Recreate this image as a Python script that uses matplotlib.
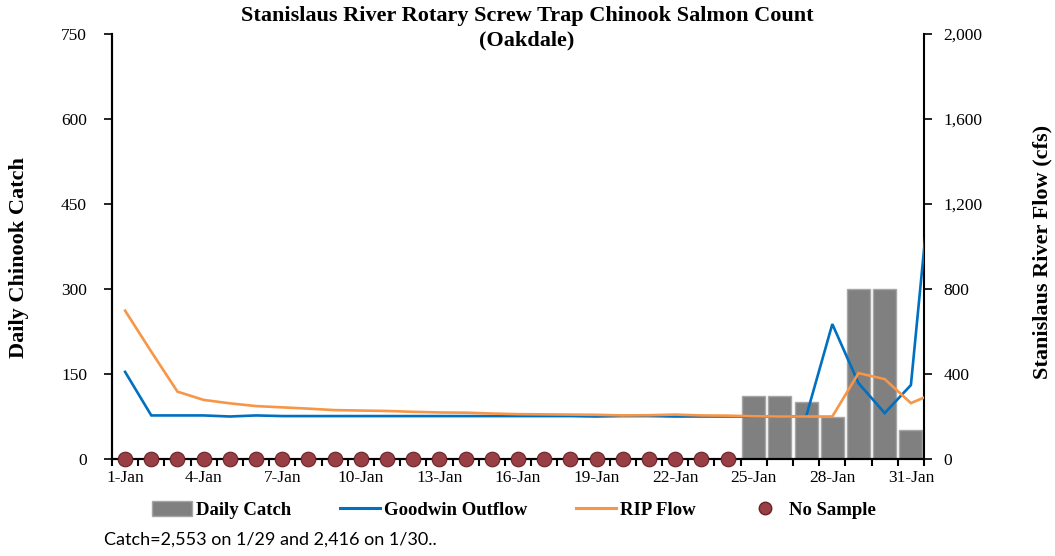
import matplotlib
matplotlib.use("Agg")
import matplotlib.pyplot as plt
from matplotlib.patches import Patch
from matplotlib.lines import Line2D
import numpy as np

# ---- data ----
days = list(range(1, 32))
tick_days = [1, 4, 7, 10, 13, 16, 19, 22, 25, 28, 31]
tick_labels = [f"{d}-Jan" for d in tick_days]

catch_days = [25, 26, 27, 28, 29, 30, 31]
catch_vals = [111, 111, 101, 75, 300, 300, 51]   # 1/29 and 1/30 capped at 300 in display

no_sample_days = list(range(1, 25))
no_sample_vals = [0] * 24

flow_days = list(range(1, 33))  # includes 1-Feb, partially visible / clipped
goodwin = [410, 205, 205, 205, 200, 205, 202, 202, 202, 202, 202, 202, 202, 202, 202, 202,
           202, 202, 200, 202, 202, 200, 200, 200, 200, 200, 200, 635, 357, 216, 348, 1620]
rip = [698, 505, 317, 278, 262, 249, 243, 237, 230, 228, 226, 222, 219, 218, 214, 211,
       210, 209, 208, 205, 206, 209, 205, 204, 201, 200, 200, 200, 404, 376, 263, 315]

# ---- figure ----
W, H = 1055, 556
fig = plt.figure(figsize=(W / 100, H / 100), dpi=100)
L, R, B, T = 112, 924, 459, 34
ax = fig.add_axes([L / W, 1 - B / H, (R - L) / W, (B - T) / H])
ax2 = ax.twinx()

serif = "Liberation Serif"

ax.bar(catch_days, catch_vals, width=0.88, color="#808080", edgecolor="#a6a6a6", linewidth=1.0, zorder=2)
ax.set_ylim(0, 750)
ax.set_yticks([0, 150, 300, 450, 600, 750])
ax.set_xlim(0.5, 31.5)

ax2.plot(flow_days, goodwin, color="#0070C0", lw=1.9, solid_joinstyle="miter", zorder=3)
ax2.plot(flow_days, rip, color="#F79646", lw=1.9, solid_joinstyle="miter", zorder=3)
ax2.plot(no_sample_days, no_sample_vals, linestyle="none", marker="o", markersize=10.5,
         markerfacecolor="#983e45", markeredgecolor="#6a2228", markeredgewidth=0.8,
         clip_on=False, zorder=5)
ax2.set_ylim(0, 2000)
ax2.set_yticks([0, 400, 800, 1200, 1600, 2000])
ax2.set_yticklabels(["0", "400", "800", "1,200", "1,600", "2,000"])
ax2.set_xlim(0.5, 31.5)

# x ticks: labels at centers, tick marks at boundaries
ax.set_xticks(tick_days)
ax.set_xticklabels(tick_labels, fontfamily=serif, fontsize=12.5)
ax.tick_params(axis="x", which="major", length=0, pad=8)
ax.set_xticks(np.arange(0.5, 32, 1), minor=True)
ax.tick_params(axis="x", which="minor", length=5, width=1.5, direction="out", color="black")

ax.tick_params(axis="y", length=6, width=1.2, direction="out", pad=12)
ax2.tick_params(axis="y", length=6, width=1.2, direction="out", pad=8)
for lab in ax.get_yticklabels() + ax2.get_yticklabels():
    lab.set_fontfamily(serif)
    lab.set_fontsize(12.5)

for a in (ax, ax2):
    a.spines["top"].set_visible(False)
    for s in ("left", "right", "bottom"):
        a.spines[s].set_linewidth(1.5)
ax.spines["right"].set_visible(False)

fig.text(19 / W, 1 - 258 / H, "Daily Chinook Catch", rotation=90, ha="center", va="center",
         fontfamily=serif, fontweight="bold", fontsize=16)
fig.text(1042 / W, 1 - 252 / H, "Stanislaus River Flow (cfs)", rotation=90, ha="center", va="center",
         fontfamily=serif, fontweight="bold", fontsize=16)

fig.text(527 / W, 1 - 16 / H, "Stanislaus River Rotary Screw Trap Chinook Salmon Count",
         ha="center", va="center", fontfamily=serif, fontweight="bold", fontsize=16)
fig.text(527 / W, 1 - 40 / H, "(Oakdale)",
         ha="center", va="center", fontfamily=serif, fontweight="bold", fontsize=16)

handles = [
    Patch(facecolor="#808080", edgecolor="#a6a6a6"),
    Line2D([0], [0], color="#0070C0", lw=2.2),
    Line2D([0], [0], color="#F79646", lw=2.2),
    Line2D([0], [0], linestyle="none", marker="o", markersize=9,
           markerfacecolor="#983e45", markeredgecolor="#6a2228"),
]
labels = ["Daily Catch", "Goodwin Outflow", "RIP Flow", "No Sample"]
fig.legend(handles, labels, loc="center", bbox_to_anchor=(514 / W, 1 - 510 / H), ncol=4,
           frameon=False, handlelength=2.1, handleheight=0.8, handletextpad=0.25, columnspacing=2.6,
           prop={"family": serif, "weight": "bold", "size": 13.5})

fig.text(104 / W, 1 - 540 / H, "Catch=2,553 on 1/29 and 2,416 on 1/30..", ha="left", va="center",
         fontfamily="Lato", fontsize=13)

fig.savefig("out.png", dpi=100)
